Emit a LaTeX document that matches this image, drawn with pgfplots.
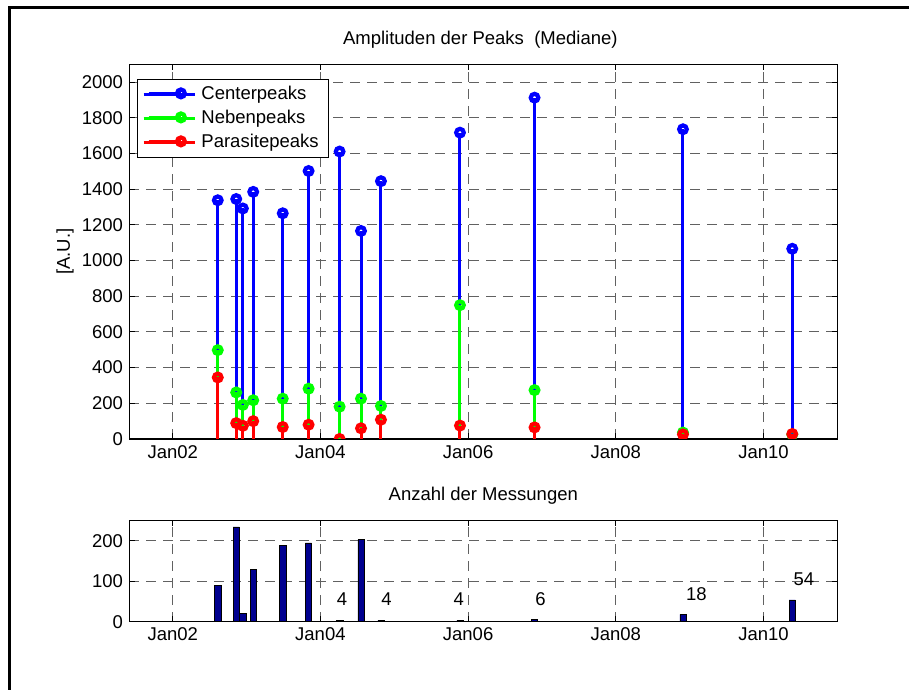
\documentclass[border=0pt]{standalone}
\usepackage{pgfplots}
\pgfplotsset{compat=1.18}
\usepackage{fontspec}
\setmainfont{Liberation Sans}

\definecolor{mblue}{rgb}{0,0,1}
\definecolor{mgreen}{rgb}{0,1,0}
\definecolor{mred}{rgb}{1,0,0}
\definecolor{barblue}{rgb}{0,0,0.5625}
\definecolor{gridgray}{gray}{0.38}

% thick open circle for the stem heads
\pgfdeclareplotmark{ring}{%
  \pgfsetlinewidth{4.2bp}%
  \pgfsetdash{}{0pt}%
  \pgfpathcircle{\pgfpointorigin}{\pgfplotmarksize}%
  \pgfusepathqstroke}

% x positions are years since 2000
\pgfplotstableread{
x      center  neben  parasite  count
2.61   1338    498    345       90
2.86   1345    261     89      235
2.95   1292    191     74       20
3.09   1385    217    100      130
3.49   1265    226     67      189
3.84   1502    282     80      195
4.26   1611    181      0        4
4.55   1166    226     60      203
4.82   1445    185    108        4
5.89   1717    750     75        4
6.90   1913    274     65        6
8.91   1736     36     26       18
10.39  1066     25     28       54
}\peaks

\pgfplotsset{
  matlab/.style={
    scale only axis,
    anchor=south west,
    width=708bp,
    xmin=1.412, xmax=11.0,
    xtick={2,4,6,8,10},
    xticklabels={Jan02,Jan04,Jan06,Jan08,Jan10},
    grid=major,
    major grid style={gridgray, line width=1bp, dash pattern=on 10bp off 7bp},
    tick align=inside,
    major tick length=5.5bp,
    tick style={black, line width=0.9bp},
    axis line style={line width=1.1bp},
    /pgf/number format/assume math mode=true,
    /pgf/number format/1000 sep={},
    clip marker paths=true,
  },
  stem/.style={ycomb, color=#1, line width=3bp, mark=ring, mark size=3.8bp,
    legend image code/.code={
      \draw[#1, line width=3bp] (5bp,0.85bp) -- (37.3bp,0.85bp);
      \draw[#1, line width=4.2bp] (37.3bp,0.85bp) circle[radius=3.9bp];
      \path (0bp,0bp) -- (51.3bp,0bp);}},
}

\begin{document}
\fontsize{18.5bp}{22bp}\selectfont
\begin{tikzpicture}
\useasboundingbox (0,0) rectangle (909bp,690bp);
\draw[line width=3bp] (9.5bp,0) -- (9.5bp,682bp) -- (909bp,682bp);

% amplitudes of the three peak types
\begin{axis}[matlab,
  at={(129.3bp,251bp)}, height=374.7bp,
  ymin=0, ymax=2100, ytick={0,200,...,2000},
  title={Amplituden der Peaks~ (Mediane)},
  title style={at={(axis description cs:0.5,1)}, anchor=base, yshift=13.5bp, xshift=-3bp},
  ylabel={[A.U.]},
  ylabel style={at={(axis description cs:-0.0908,0.5)}, anchor=center},
  legend cell align=left,
  legend style={at={(axis description cs:0.0105,0.9608)}, anchor=north west,
    draw=black, line width=0.8bp, fill=white,
    inner xsep=5bp, inner ysep=6.85bp, row sep=8bp,
    nodes={inner xsep=5bp, inner ysep=0bp, text height=13.75bp, text depth=2.25bp}},
]
\addplot[stem=mblue] table[x=x, y=center] {\peaks};
\addlegendentry{Centerpeaks}
\addplot[stem=mgreen] table[x=x, y=neben] {\peaks};
\addlegendentry{Nebenpeaks}
\addplot[stem=mred] table[x=x, y=parasite] {\peaks};
\addlegendentry{Parasitepeaks}
\end{axis}

% number of measurements
\begin{axis}[matlab,
  at={(129.3bp,68.3bp)}, height=101bp,
  ymin=0, ymax=250, ytick={0,100,200},
  title={Anzahl der Messungen},
  title style={at={(axis description cs:0.5,1)}, anchor=base, yshift=14bp},
]
\addplot[ybar, bar width=6.3bp, fill=barblue, draw=black, line width=0.5bp]
  table[x=x, y=count] {\peaks};
\node[anchor=base west, inner sep=0pt] at (axis cs:4.219,39) {4};
\node[anchor=base west, inner sep=0pt] at (axis cs:4.824,39) {4};
\node[anchor=base west, inner sep=0pt] at (axis cs:5.800,39) {4};
\node[anchor=base west, inner sep=0pt] at (axis cs:6.908,41) {6};
\node[anchor=base west, inner sep=0pt] at (axis cs:8.950,53) {18};
\node[anchor=base west, inner sep=0pt] at (axis cs:10.406,89) {54};
\end{axis}
\end{tikzpicture}
\end{document}
